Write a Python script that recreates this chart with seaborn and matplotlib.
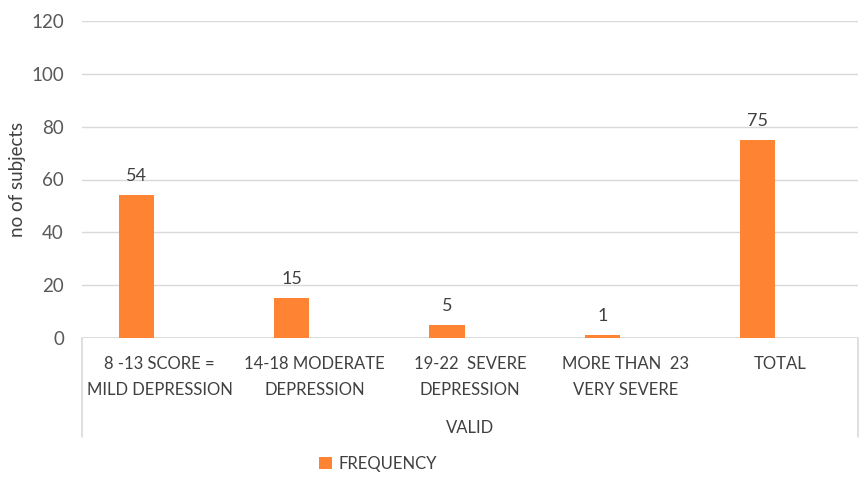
import matplotlib
matplotlib.use("Agg")
import matplotlib.pyplot as plt
import seaborn as sns
import pandas as pd
from matplotlib.lines import Line2D
from matplotlib.patches import Patch

categories = ["8 -13 SCORE =\nMILD DEPRESSION", "14-18 MODERATE\nDEPRESSION",
              "19-22  SEVERE\nDEPRESSION", "MORE THAN  23\nVERY SEVERE", "TOTAL"]
frequency = [54, 15, 5, 1, 75]
blank_series = [0, 0, 0, 0, 0]
group_label = "VALID"
y_ticks = [0, 20, 40, 60, 80, 100, 120]

sns.set_theme(style="white")
plt.rcParams['font.family'] = ['Lato', 'DejaVu Sans']

ORANGE = "#FE8433"
TXT = "#404040"
GRID = "#D9D9D9"

df = pd.DataFrame({
    "category": categories * 2,
    "series": ["FREQUENCY"] * len(categories) + ["BLANK"] * len(categories),
    "value": frequency + blank_series,
})

fig = plt.figure(figsize=(8.66, 4.80), dpi=100)
ax = fig.add_axes([82/866, 1-338/480, 776/866, 317/480])

sns.barplot(data=df, x="category", y="value", hue="series",
            hue_order=["FREQUENCY", "BLANK"],
            palette={"FREQUENCY": ORANGE, "BLANK": (1, 1, 1, 0)},
            saturation=1, width=0.592, gap=0.236, linewidth=0,
            legend=False, ax=ax)

ax.set_ylim(0, 120)
ax.set_xlim(-0.5, len(categories) - 0.5)
ax.set_yticks(y_ticks)
ax.yaxis.grid(True, color=GRID, linewidth=1.0)
ax.set_axisbelow(True)
for s in ax.spines.values():
    s.set_visible(False)
ax.axhline(0, color=GRID, linewidth=1.2, zorder=0.5)

ax.tick_params(axis='y', length=0, pad=13, labelsize=13.5, labelcolor="#595959")
ax.tick_params(axis='x', length=0, pad=13, labelsize=12, labelcolor=TXT)
for lbl in ax.get_xticklabels():
    lbl.set_linespacing(1.75)

ax.set_xlabel(group_label, fontsize=12, color=TXT, labelpad=16)
ax.set_ylabel("no of subjects", fontsize=13.5, color=TXT)
ax.yaxis.set_label_coords(-0.072, 0.5)

ax.bar_label(ax.containers[0], labels=[str(v) for v in frequency],
             padding=8, fontsize=13, color=TXT)

# multi-level category box lines
for xa in (0.0, 1.0):
    ax.add_line(Line2D([xa, xa], [0, -(437-338)/317], transform=ax.transAxes,
                       color=GRID, linewidth=1.2, clip_on=False))

handles = [Patch(facecolor=ORANGE, edgecolor='none')]
fig.legend(handles, ["FREQUENCY"], loc="center", bbox_to_anchor=(378/866, 1-464/480),
           frameon=False, fontsize=12, handlelength=0.75, handleheight=0.75,
           handletextpad=0.4, labelcolor=TXT)

fig.savefig("out.png", dpi=100)
